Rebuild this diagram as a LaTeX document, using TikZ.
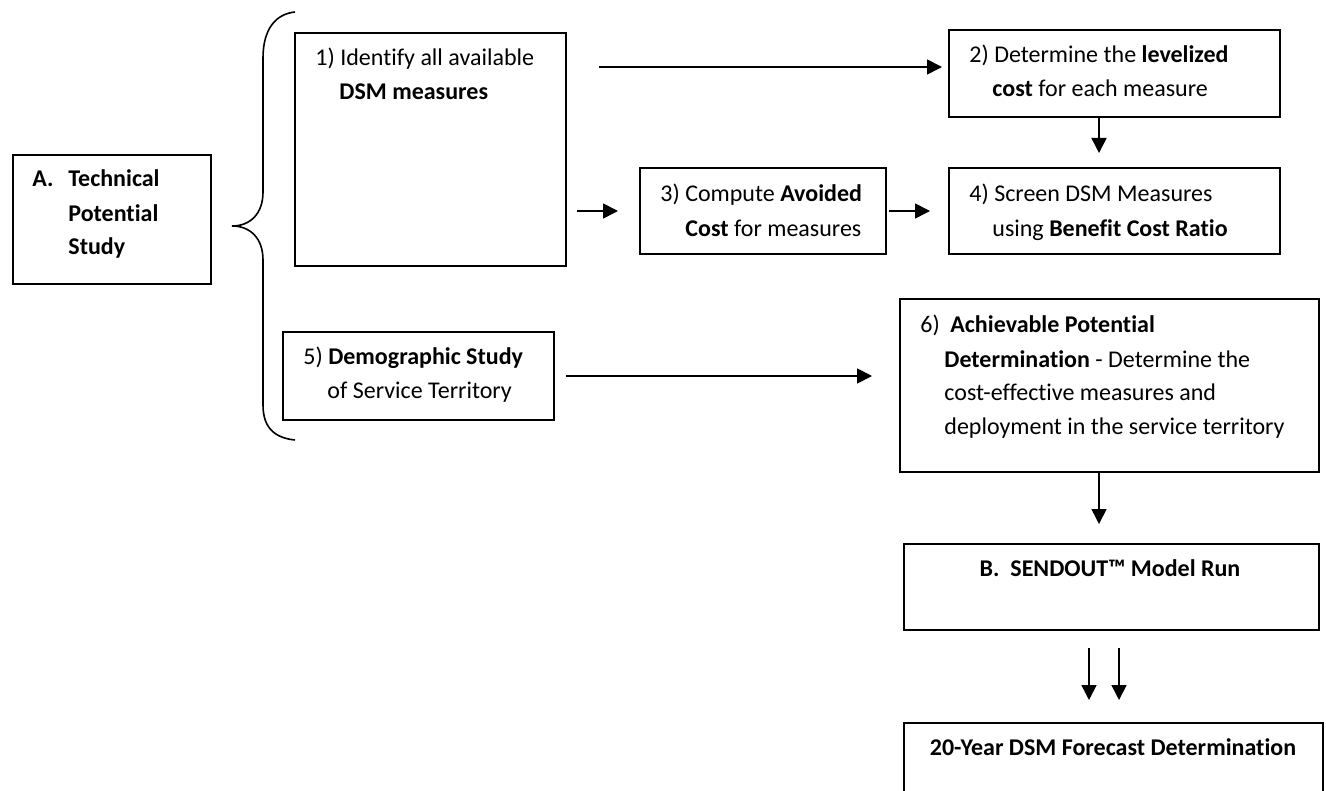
\documentclass[tikz,border=0pt]{standalone}
\usepackage{fontspec}
\setmainfont{Carlito}[Ligatures=NoCommon]
\usetikzlibrary{calc,arrows.meta}
\begin{document}
\begin{tikzpicture}[x=0.5pt,y=-0.5pt,
  box/.style={draw,line width=1pt,inner sep=0pt,anchor=north west},
  txt/.style={anchor=base west,inner sep=0pt,font=\fontsize{12}{17}\selectfont},
  ctxt/.style={anchor=base,inner sep=0pt,font=\fontsize{12}{17}\selectfont\bfseries},
  arr/.style={line width=0.8pt,-{Triangle[length=7.5pt,width=7.5pt]}}]
\useasboundingbox (0,0) rectangle (1326,791);
\clip (0,0) rectangle (1326,791);
% boxes
\node[box,minimum width=99pt,minimum height=64.5pt] (bA) at (12,154) {};
\node[box,minimum width=135.5pt,minimum height=116.5pt] (b1) at (294,32) {};
\node[box,minimum width=165.5pt,minimum height=43.5pt] (b2) at (948,29) {};
\node[box,minimum width=123pt,minimum height=43pt] (b3) at (639,167) {};
\node[box,minimum width=165.5pt,minimum height=43pt] (b4) at (948,167) {};
\node[box,minimum width=135.5pt,minimum height=44pt] (b5) at (282,331) {};
\node[box,minimum width=209.5pt,minimum height=86.5pt] (b6) at (899,298) {};
\node[box,minimum width=207.5pt,minimum height=43pt] (bB) at (903,543) {};
\node[box,minimum width=209.5pt,minimum height=50pt] (b20) at (903,722) {};
% texts
\node[txt] (tA1) at (32,187) {\textbf{A.}};
\node[txt] (tA2) at (68,187) {\textbf{Technical}};
\node[txt] (tA3) at (68,221) {\textbf{Potential}};
\node[txt] (tA4) at (68,255) {\textbf{Study}};
\node[txt] (t1a) at (315,66) {1) Identify all available};
\node[txt] (t1b) at (339,100) {\textbf{DSM measures}};
\node[txt] (t2a) at (969,63) {2) Determine the \textbf{levelized}};
\node[txt] (t2b) at (992,97) {\textbf{cost} for each measure};
\node[txt] (t3a) at (660,202) {3) Compute \textbf{Avoided}};
\node[txt] (t3b) at (685,236) {\textbf{Cost} for measures};
\node[txt] (t4a) at (969,202) {4) Screen DSM Measures};
\node[txt] (t4b) at (992,236) {using \textbf{Benefit Cost Ratio}};
\node[txt] (t5a) at (303,364) {5) \textbf{Demographic Study}};
\node[txt] (t5b) at (327,398) {of Service Territory};
\node[txt] (t6n) at (920,332) {6)};
\node[txt] (t6a) at (950,332) {\textbf{Achievable Potential}};
\node[txt] (t6b) at (944,367) {\textbf{Determination} - Determine the};
\node[txt] (t6c) at (944,400) {cost-effective measures and};
\node[txt] (t6d) at (944,434) {deployment in the service territory};
\node[ctxt] (tB) at (1110,576) {B.\ \ SENDOUT™ Model Run};
\node[ctxt] (t20) at (1113,755) {20-Year DSM Forecast Determination};
% brace
\draw[line width=0.8pt] (295,12) .. controls (275,14) and (263,30) .. (263,58)
  -- (263,192) .. controls (263,214) and (250,226) .. (232,226)
  .. controls (250,226) and (263,238) .. (263,260)
  -- (263,405) .. controls (263,428) and (275,438) .. (295,440);
% arrows
\draw[arr] ($(b1.north east)+(32,35)$) -- ($(b2.north west)+(-6,38)$);
\draw[arr] ([xshift=5pt]b1.east |- b3.west) -- ([xshift=-10.5pt]b3.west);
\draw[arr] ([xshift=1pt]b3.east) -- ([xshift=-9pt]b4.west);
\draw[arr] ($(b2.south)+(-15.5,0)$) -- ($(b4.north)+(-15.5,-14)$);
\draw[arr] ([xshift=5.5pt]b5.east) -- ([xshift=-13.5pt]b6.west |- b5.east);
\draw[arr] ($(b6.south)+(-10.5,0)$) -- ($(bB.north)+(-12.5,-19)$);
\draw[arr] ($(bB.south)+(-22.5,17)$) -- ($(b20.north)+(-24.5,-22)$);
\draw[arr] ($(bB.south)+(7.5,17)$) -- ($(b20.north)+(5.5,-22)$);
\end{tikzpicture}
\end{document}
